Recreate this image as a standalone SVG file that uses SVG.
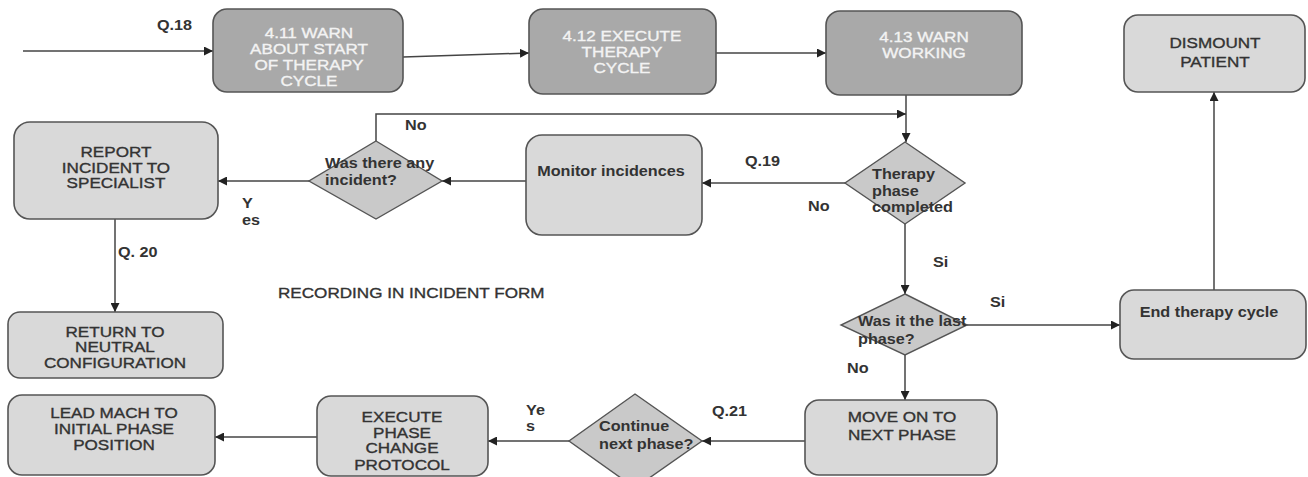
<svg xmlns="http://www.w3.org/2000/svg" width="1308" height="477" viewBox="0 0 1308 477">
<style>
text{font-family:"Liberation Sans",Arial,sans-serif;font-size:15px;font-weight:bold;fill:#333;transform-box:fill-box;transform-origin:center;transform:scaleX(1.08)}
text.m{text-anchor:middle}
text.l{transform-origin:left center}
text.n{font-weight:normal;stroke:#333;stroke-width:0.35;transform:scaleX(1.14)}
text.w{fill:#f3f3f3;stroke:#f3f3f3}
.dk{fill:#a9a9a9;stroke:#555;stroke-width:1.6}
.lt{fill:#d9d9d9;stroke:#555;stroke-width:1.6}
.dm{fill:#c9c9c9;stroke:#555;stroke-width:1.4}
.c{fill:none;stroke:#444;stroke-width:1.5}
</style>
<defs>
<marker id="a" viewBox="0 0 10 10" refX="10" refY="5" markerWidth="9" markerHeight="9" markerUnits="userSpaceOnUse" orient="auto">
<path d="M0,0 L10,5 L0,10 z" fill="#222"/>
</marker>
</defs>
<rect width="1308" height="477" fill="#fff"/>
<g id="connectors">
<path class="c" d="M23,51 H213" marker-end="url(#a)"/>
<path class="c" d="M403,57 L529,53" marker-end="url(#a)"/>
<path class="c" d="M716,53 H826" marker-end="url(#a)"/>
<path class="c" d="M906,95 V142" marker-end="url(#a)"/>
<path class="c" d="M376,141 V114 H906" marker-end="url(#a)"/>
<path class="c" d="M845,183 H702" marker-end="url(#a)"/>
<path class="c" d="M526,181 H442" marker-end="url(#a)"/>
<path class="c" d="M309,181 H218" marker-end="url(#a)"/>
<path class="c" d="M115,219 V312" marker-end="url(#a)"/>
<path class="c" d="M905,224 V294" marker-end="url(#a)"/>
<path class="c" d="M967,325 H1120" marker-end="url(#a)"/>
<path class="c" d="M1214,290 V92" marker-end="url(#a)"/>
<path class="c" d="M905,355 V400" marker-end="url(#a)"/>
<path class="c" d="M805,441 H702" marker-end="url(#a)"/>
<path class="c" d="M569,441 H488" marker-end="url(#a)"/>
<path class="c" d="M317,437 H215" marker-end="url(#a)"/>
</g>
<g id="labels">
<text class="l" x="157" y="30">Q.18</text>
<text class="l" x="405" y="130">No</text>
<text class="l" x="745" y="166">Q.19</text>
<text class="l" x="808" y="211">No</text>
<text class="l" x="933" y="267">Si</text>
<text class="l" x="242" y="208">Y</text>
<text class="l" x="242" y="225">es</text>
<text class="l" x="118" y="257">Q. 20</text>
<text class="l n" x="278" y="298">RECORDING IN INCIDENT FORM</text>
<text class="l" x="990" y="307">Si</text>
<text class="l" x="847" y="373">No</text>
<text class="l" x="526" y="415">Ye</text>
<text class="l" x="526" y="431">s</text>
<text class="l" x="712" y="416">Q.21</text>
</g>
<g id="n411">
<rect class="dk" x="213" y="9" width="190" height="83" rx="14"/>
<text class="m n w" x="309" y="38">4.11 WARN</text>
<text class="m n w" x="309" y="54">ABOUT START</text>
<text class="m n w" x="309" y="70">OF THERAPY</text>
<text class="m n w" x="309" y="86">CYCLE</text>
</g>
<g id="n412">
<rect class="dk" x="529" y="9" width="187" height="85" rx="14"/>
<text class="m n w" x="622" y="41">4.12 EXECUTE</text>
<text class="m n w" x="622" y="57">THERAPY</text>
<text class="m n w" x="622" y="73">CYCLE</text>
</g>
<g id="n413">
<rect class="dk" x="826" y="11" width="196" height="84" rx="14"/>
<text class="m n w" x="924" y="42">4.13 WARN</text>
<text class="m n w" x="924" y="58">WORKING</text>
</g>
<g id="dismount">
<rect class="lt" x="1124" y="15" width="181" height="77" rx="14"/>
<text class="m n" x="1215" y="48">DISMOUNT</text>
<text class="m n" x="1215" y="67">PATIENT</text>
</g>
<g id="report">
<rect class="lt" x="14" y="122" width="204" height="97" rx="16"/>
<text class="m n" x="116" y="157">REPORT</text>
<text class="m n" x="116" y="173">INCIDENT TO</text>
<text class="m n" x="116" y="188">SPECIALIST</text>
</g>
<g id="incident">
<polygon class="dm" points="376,141 442,181 376,219 309,181"/>
<text class="l" x="325" y="168">Was there any</text>
<text class="l" x="325" y="185">incident?</text>
</g>
<g id="monitor">
<rect class="lt" x="526" y="135" width="176" height="100" rx="16"/>
<text class="m" x="611" y="176">Monitor incidences</text>
</g>
<g id="therapy">
<polygon class="dm" points="905,142 965,183 905,224 845,183"/>
<text class="l" x="872" y="179">Therapy</text>
<text class="l" x="872" y="196">phase</text>
<text class="l" x="872" y="212">completed</text>
</g>
<g id="return">
<rect class="lt" x="8" y="312" width="215" height="66" rx="12"/>
<text class="m n" x="115" y="337">RETURN TO</text>
<text class="m n" x="115" y="352">NEUTRAL</text>
<text class="m n" x="115" y="368">CONFIGURATION</text>
</g>
<g id="lastphase">
<polygon class="dm" points="905,294 967,325 905,355 841,325"/>
<text class="l" x="858" y="326">Was it the last</text>
<text class="l" x="858" y="344">phase?</text>
</g>
<g id="endcycle">
<rect class="lt" x="1120" y="290" width="186" height="69" rx="14"/>
<text class="m" x="1209" y="317">End therapy cycle</text>
</g>
<g id="lead">
<rect class="lt" x="8" y="395" width="207" height="80" rx="14"/>
<text class="m n" x="114" y="418">LEAD MACH TO</text>
<text class="m n" x="114" y="434">INITIAL PHASE</text>
<text class="m n" x="114" y="450">POSITION</text>
</g>
<g id="execute">
<rect class="lt" x="317" y="396" width="171" height="80" rx="14"/>
<text class="m n" x="402" y="422">EXECUTE</text>
<text class="m n" x="402" y="438">PHASE</text>
<text class="m n" x="402" y="453">CHANGE</text>
<text class="m n" x="402" y="470">PROTOCOL</text>
</g>
<g id="continue">
<polygon class="dm" points="635,394 702,441 635,488 569,441"/>
<text class="l" x="599" y="431">Continue</text>
<text class="l" x="599" y="449">next phase?</text>
</g>
<g id="moveon">
<rect class="lt" x="805" y="400" width="192" height="75" rx="14"/>
<text class="m n" x="902" y="422">MOVE ON TO</text>
<text class="m n" x="902" y="440">NEXT PHASE</text>
</g>
</svg>
